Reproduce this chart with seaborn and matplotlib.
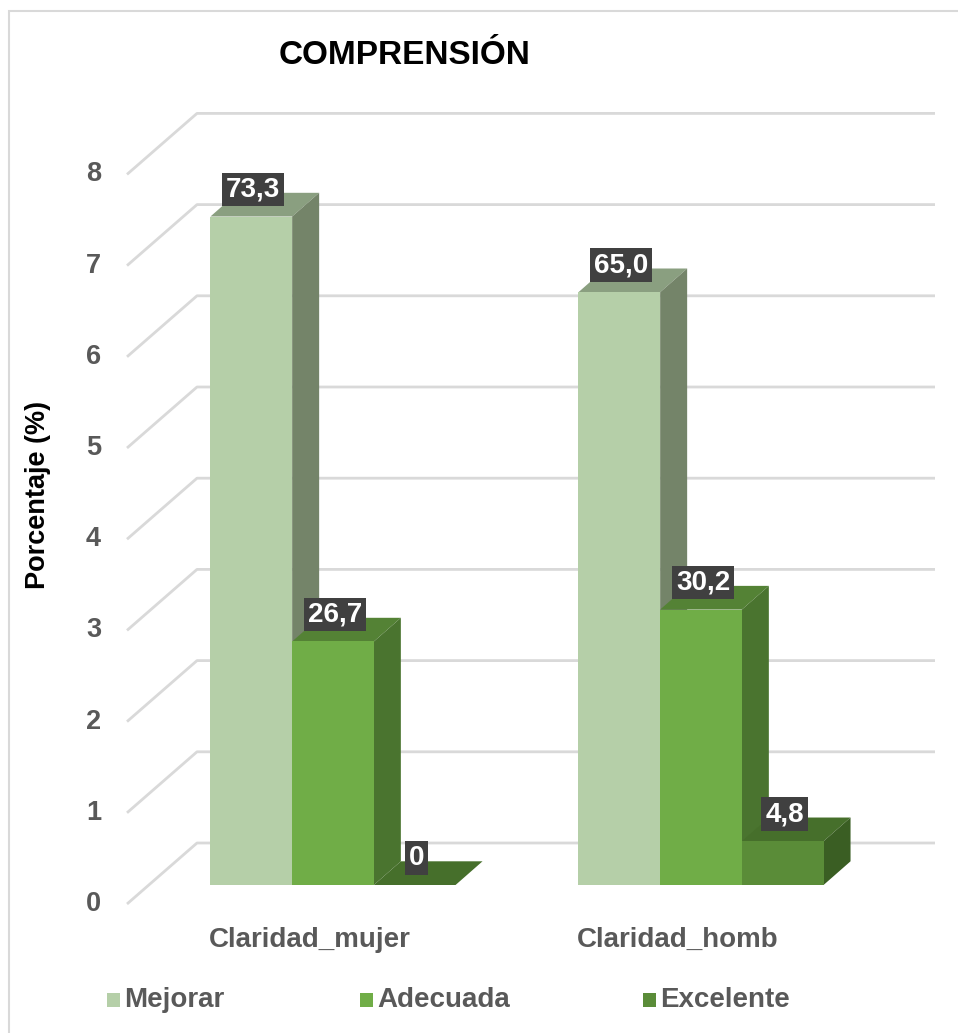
import matplotlib
matplotlib.use("Agg")
import matplotlib.pyplot as plt
import seaborn as sns
import pandas as pd
from matplotlib.patches import Polygon, Rectangle

# data (values in %, plotted on a 0-8 axis as in the original: value / 10)
categories = ["Claridad_mujer", "Claridad_homb"]
levels = ["Mejorar", "Adecuada", "Excelente"]
mejorar = [73.3, 65.0]
adecuada = [26.7, 30.2]
excelente = [0.0, 4.8]
value_labels = {"Mejorar": ["73,3", "65,0"], "Adecuada": ["26,7", "30,2"], "Excelente": ["0", "4,8"]}
yticks = [0, 1, 2, 3, 4, 5, 6, 7, 8]

front = {"Mejorar": "#b5cfa8", "Adecuada": "#70ad47", "Excelente": "#5a8c38"}
top = {"Mejorar": "#8a9f80", "Adecuada": "#548235", "Excelente": "#466f2b"}
side = {"Mejorar": "#748469", "Adecuada": "#4a742f", "Excelente": "#3a5e23"}

df = pd.DataFrame({
    "cat": categories * 3,
    "nivel": [l for l in levels for _ in categories],
    "valor": mejorar + adecuada + excelente,
})
df["h"] = df["valor"] / 10

sns.set_theme(style="white")
plt.rcParams["font.family"] = ["Liberation Sans", "DejaVu Sans"]

W, H = 958, 1033
fig = plt.figure(figsize=(W / 100, H / 100), dpi=100)
ax = fig.add_axes([0, 0, 1, 1])

# pixel mapping: x_pix = 333 + 368 * x ; y_pix = 885 - 91.2 * v
PX, PY = 368.0, 91.2

def px(xp):
    return (xp - 333) / PX

def py(yp):
    return (885 - yp) / PY

# chart border
ax.add_patch(Rectangle((px(9), py(H + 20)), (W + 40) / PX, (H + 9) / PY,
                       fill=False, ec="#d9d9d9", lw=1.5, zorder=0))

# floor / back wall gridlines
for v in yticks:
    x0, y0 = px(127), py(904) + v
    x1, y1 = px(197), py(843) + v
    ax.plot([x0, x1, px(935)], [y0, y1, y1], color="#d9d9d9", lw=2, zorder=1,
            solid_capstyle="butt")
    ax.text(px(101), y0, str(v), ha="right", va="center", fontsize=19.5,
            fontweight="bold", color="#595959")

sns.barplot(data=df, x="cat", y="h", hue="nivel", order=categories, hue_order=levels,
            palette=front, width=0.666, saturation=1, legend=False, ax=ax,
            linewidth=0, zorder=3)

dx, dy = 27 / PX, 23.7 / PY
for container, lev in zip(ax.containers, levels):
    for bar, lab in zip(container, value_labels[lev]):
        x0 = bar.get_x()
        x1 = x0 + bar.get_width()
        h = bar.get_height()
        ax.add_patch(Polygon([(x0, h), (x0 + dx, h + dy), (x1 + dx, h + dy), (x1, h)],
                             closed=True, fc=top[lev], ec="none", zorder=2))
        ax.add_patch(Polygon([(x1, 0), (x1 + dx, dy), (x1 + dx, h + dy), (x1, h)],
                             closed=True, fc=side[lev], ec="none", zorder=2))
        ax.text(x0 + bar.get_width() / 2 + 2 / PX, h + 27 / PY, lab, ha="center",
                va="center", fontsize=20, fontweight="bold", color="white", zorder=5,
                bbox=dict(boxstyle="square,pad=0.14", fc="#404040", ec="none"))

ax.set_xlabel("")
ax.set_ylabel("")
ax.set_xlim(-333 / PX, (W - 333) / PX)
ax.set_ylim((885 - H) / PY, 885 / PY)
ax.axis("off")

# category labels
for i, c in enumerate(categories):
    ax.text(i - 23 / PX, py(940), c, ha="center", va="center", fontsize=20,
            fontweight="bold", color="#595959")

ax.text(px(405), py(55), "COMPRENSIÓN", ha="center", va="center", fontsize=24,
        fontweight="bold", color="black")
ax.text(px(38), py(495), "Porcentaje (%)", ha="center", va="center", rotation=90,
        fontsize=19.5, fontweight="bold", color="black")

# legend
for lev, sx in zip(levels, [107, 360, 643]):
    ax.add_patch(Rectangle((px(sx), py(1007)), 13 / PX, 14 / PY, fc=front[lev], ec="none"))
    ax.text(px(sx + 17), py(1000), lev, ha="left", va="center", fontsize=20,
            fontweight="bold", color="#595959")

fig.savefig("out.png", dpi=100)
